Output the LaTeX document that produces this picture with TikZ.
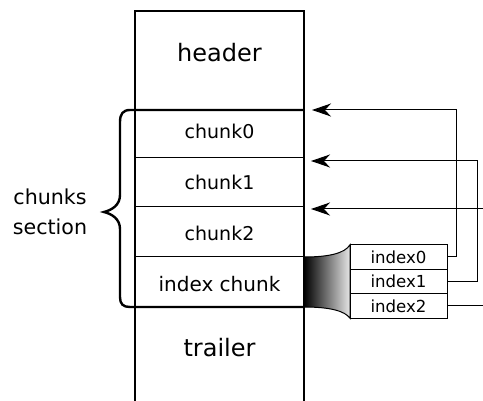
\documentclass[tikz,border=0pt]{standalone}
\usepackage{fontspec}
\setmainfont{DejaVu Sans}
\usetikzlibrary{arrows.meta,positioning,backgrounds}
\tikzset{
  seg/.style={inner sep=0pt, font=\fontsize{9.5}{11}\selectfont},
  big/.style={inner sep=0pt, font=\fontsize{12}{14}\selectfont},
  idx/.style={draw, fill=white, line width=0.5pt, minimum width=48.5pt, minimum height=12.25pt, inner sep=0pt, outer sep=0pt, font=\fontsize{8.3}{10}\selectfont},
  arr/.style={-{Stealth[length=9.5pt,width=6.5pt,inset=3pt]}, line width=0.5pt},
}
\begin{document}
\begin{tikzpicture}[x=0.5pt,y=-0.5pt]
\useasboundingbox (0,0) rectangle (483,401);
\node[idx] (idx0) at (398.5,257) {index0};
\node[idx, below=0pt of idx0] (idx1) {index1};
\node[idx, below=0pt of idx1] (idx2) {index2};
\begin{scope}[on background layer]
\shadedraw[left color=black, right color=gray!20, line width=0.5pt]
  (304,257) .. controls (330,257) and (345,253) .. (idx0.north west)
  -- (idx2.south west) .. controls (345,311) and (330,307) .. (304,307) -- cycle;
\end{scope}
\draw[line width=1pt] (135,401) -- (135,11) -- (304,11) -- (304,401);
\draw[line width=1.2pt] (304,110) -- (130,110) .. controls (123,110) and (120,114) .. (120,122)
  -- (120,195) .. controls (120,205) and (112,210) .. (104,212)
  .. controls (112,214) and (120,219) .. (120,229)
  -- (120,297) .. controls (120,304) and (123,307) .. (130,307) -- (304,307);
\foreach \y in {158,207,257}
  \draw[line width=0.5pt] (135,\y) -- (304,\y);
\node[big] (header) at (219.5,53) {header};
\node[seg] (chunk0) at (219.5,131) {chunk0};
\node[seg] (chunk1) at (219.5,182) {chunk1};
\node[seg] (chunk2) at (219.5,233) {chunk2};
\node[seg, font=\fontsize{10}{12}\selectfont] (ichunk) at (219.5,284) {index chunk};
\node[big] (trailer) at (219.5,348) {trailer};
\node[align=center, inner sep=0pt, font=\fontsize{10.3}{15}\selectfont] (sect) at (50,212) {chunks\\section};
\coordinate (in0) at (312,110);
\coordinate (in1) at (311,161);
\coordinate (in2) at (311,209);
\coordinate (edge) at (483,0);
\coordinate (src2) at (483,209);
\draw[arr] (idx0.east) -- ++(9,0) |- (in0);
\draw[arr] (idx1.east) -- ++(30,0) |- (in1);
\draw[line width=0.5pt] (idx2.east) -- (idx2.east -| edge);
\draw[arr] (src2) -- (in2);
\end{tikzpicture}
\end{document}
